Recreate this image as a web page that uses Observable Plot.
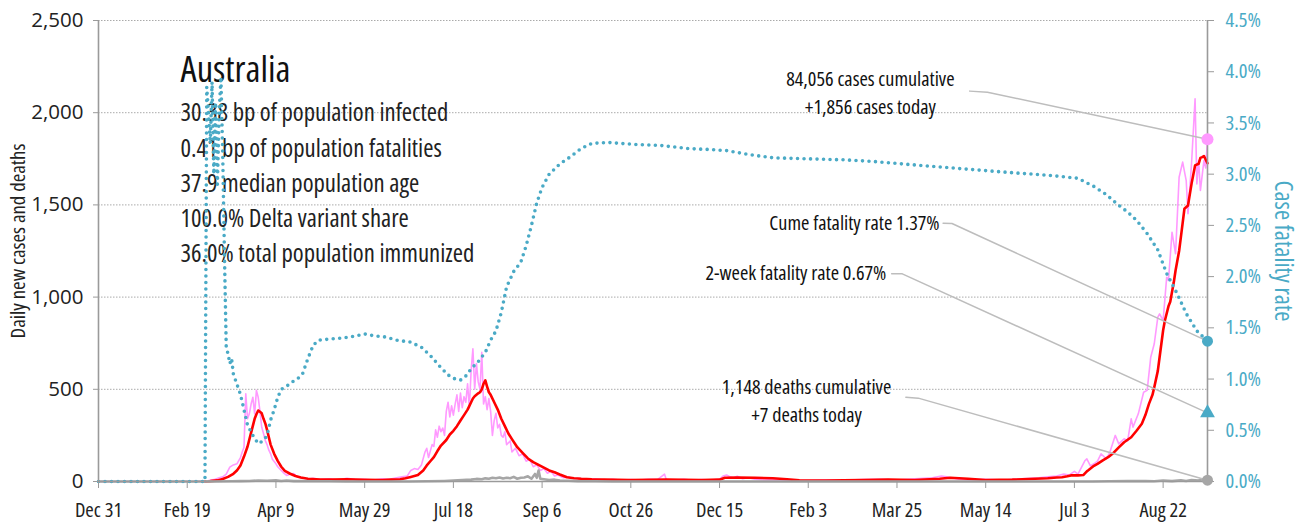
<!DOCTYPE html>
<html><head><meta charset="utf-8">
<script src="https://cdn.jsdelivr.net/npm/d3@7"></script>
<script src="https://cdn.jsdelivr.net/npm/@observablehq/plot@0.6"></script>
<style>
body{margin:0;background:#fff;}
#chart{width:1304px;height:523px;}
</style></head><body><div id="chart"></div>
<script>
// ---- data (day offsets from Dec 31, 2019) ----
const startDate = [2019, 11, 31];
const lastDay = 625;
const tickDays = [0, 50, 100, 150, 200, 250, 300, 350, 400, 450, 500, 550, 600];
const tickLabels = ["Dec 31","Feb 19","Apr 9","May 29","Jul 18","Sep 6","Oct 26","Dec 15","Feb 3","Mar 25","May 14","Jul 3","Aug 22"];
const leftTicks = [0, 500, 1000, 1500, 2000, 2500];
const cfrTicks = [0, 0.5, 1, 1.5, 2, 2.5, 3, 3.5, 4, 4.5];

const dailyCases = [[0,0],[20,0],[40,0],[55,1],[60,3],[62,5],[65,10],[68,20],[70,25],[72,40],[74,78],[76,90],[78,96],[80,130],[81,160],[82,186],[83,476],[84,340],[85,367],[86,420],[87,457],[88,367],[89,494],[90,457],[91,380],[92,294],[93,260],[94,222],[95,200],[96,170],[97,150],[98,120],[100,96],[101,80],[103,60],[104,50],[106,33],[108,40],[110,43],[112,25],[115,20],[118,12],[121,18],[125,10],[130,15],[135,8],[140,18],[145,10],[150,12],[155,8],[160,15],[164,12],[168,20],[171,25],[174,30],[176,60],[178,70],[180,65],[182,90],[184,160],[185,180],[186,130],[188,200],[189,190],[190,280],[191,240],[192,300],[193,270],[194,290],[195,250],[196,380],[197,430],[198,350],[199,410],[200,360],[201,420],[202,470],[203,380],[204,480],[205,400],[206,460],[207,430],[208,530],[209,400],[210,600],[211,720],[212,500],[213,640],[214,540],[215,500],[216,700],[217,420],[218,460],[219,390],[220,450],[221,380],[222,250],[223,330],[224,370],[225,290],[226,310],[227,250],[228,240],[229,270],[230,200],[232,220],[233,160],[235,180],[237,140],[239,150],[241,110],[243,120],[245,80],[247,90],[249,60],[251,70],[253,45],[255,55],[257,30],[259,35],[262,20],[265,25],[268,15],[271,18],[275,10],[280,14],[285,8],[290,12],[295,6],[300,10],[305,8],[310,12],[315,10],[319,40],[320,10],[325,8],[330,12],[335,6],[340,10],[345,8],[350,12],[352,30],[354,35],[356,25],[358,20],[360,28],[363,15],[366,20],[370,12],[375,8],[380,10],[390,6],[400,5],[410,8],[420,6],[430,10],[440,12],[450,8],[460,15],[470,20],[475,30],[478,25],[481,18],[485,12],[490,10],[500,12],[510,8],[520,15],[530,20],[535,25],[540,30],[544,40],[547,35],[550,55],[552,40],[556,114],[557,123],[559,85],[561,96],[563,110],[565,150],[568,123],[570,160],[573,250],[575,204],[578,232],[580,220],[582,340],[583,295],[586,367],[589,484],[591,494],[593,674],[595,747],[597,891],[598,909],[600,873],[602,1108],[603,1090],[605,1352],[607,1235],[609,1650],[611,1732],[613,1632],[614,1452],[616,1723],[618,2075],[619,1614],[620,1741],[621,1578],[623,1741],[624,1700],[625,1856]];

const avgCases = [[60,0],[63,2],[67,6],[70,14],[73,25],[76,42],[78,60],[80,87],[82,135],[84,190],[86,265],[88,340],[89,365],[90,385],[91,378],[92,370],[93,340],[94,315],[95,280],[96,240],[97,200],[99,150],[101,112],[103,80],[105,58],[108,42],[111,30],[114,22],[118,15],[125,11],[132,10],[140,12],[150,9],[160,8],[165,10],[170,12],[173,18],[176,25],[180,35],[183,60],[185,87],[187,110],[189,132],[191,165],[193,195],[196,225],[198,255],[200,275],[202,300],[204,331],[206,360],[208,390],[210,430],[211,450],[212,462],[213,470],[214,478],[215,484],[216,500],[217,530],[218,548],[219,515],[220,484],[221,470],[223,430],[225,390],[227,340],[229,300],[231,260],[233,230],[236,186],[239,155],[242,125],[245,105],[248,90],[251,75],[254,60],[257,50],[260,38],[264,23],[268,18],[272,15],[278,12],[285,10],[300,8],[320,10],[340,8],[350,10],[353,20],[360,22],[370,20],[380,18],[388,12],[395,6],[410,5],[430,8],[445,10],[460,8],[474,15],[480,20],[490,15],[500,8],[515,10],[528,15],[535,18],[540,22],[543,23],[546,28],[548,33],[552,33],[555,35],[557,55],[558,62],[561,85],[563,96],[566,115],[569,132],[572,155],[575,185],[578,213],[582,240],[585,275],[588,313],[590,360],[592,421],[594,470],[595,511],[597,600],[598,674],[600,820],[601,873],[603,950],[604,975],[606,1080],[607,1144],[609,1250],[610,1325],[612,1479],[614,1497],[616,1614],[618,1714],[620,1723],[621,1755],[622,1759],[623,1765],[624,1745],[625,1726]];

const dailyDeaths = [[0,0],[60,0],[61,1],[65,0],[75,1],[80,2],[85,3],[90,5],[95,4],[100,6],[103,3],[106,5],[110,2],[115,3],[120,1],[130,1],[140,0],[150,0],[175,0],[185,1],[195,3],[200,5],[205,8],[210,10],[213,14],[216,12],[218,17],[220,15],[222,20],[224,18],[226,22],[228,16],[230,20],[232,18],[234,25],[236,15],[238,20],[240,22],[242,28],[244,15],[246,41],[247,20],[248,59],[249,15],[251,12],[254,8],[257,10],[260,5],[265,4],[270,2],[280,1],[290,0],[540,0],[560,0],[570,1],[580,2],[590,3],[595,1],[600,5],[605,2],[610,6],[613,3],[616,8],[620,5],[622,12],[625,7]];

const cumeCfr = [[0,0],[30,0],[60,0],[61,3.85],[62,3.6],[63,3.3],[64,3.9],[65,3.0],[66,3.7],[67,2.9],[68,3.6],[69,3.95],[70,3.2],[71,2.2],[72,1.3],[73,1.25],[74,1.15],[75,1.2],[76,1.05],[77,1.0],[78,0.95],[79,0.9],[80,0.85],[82,0.7],[84,0.55],[87,0.45],[90,0.37],[93,0.4],[95,0.45],[97,0.6],[99,0.7],[101,0.82],[103,0.9],[106,0.93],[109,0.97],[112,1.0],[115,1.05],[118,1.2],[121,1.33],[124,1.38],[130,1.39],[137,1.4],[145,1.42],[150,1.44],[156,1.42],[162,1.41],[168,1.38],[176,1.36],[182,1.31],[187,1.23],[192,1.13],[197,1.04],[201,1.0],[204,0.99],[207,1.03],[210,1.1],[214,1.17],[218,1.26],[221,1.38],[224,1.47],[227,1.65],[230,1.9],[234,2.05],[238,2.14],[241,2.3],[244,2.5],[247,2.72],[250,2.87],[254,3.0],[260,3.1],[266,3.17],[272,3.25],[278,3.3],[287,3.31],[302,3.29],[317,3.28],[332,3.25],[345,3.24],[354,3.23],[367,3.19],[380,3.16],[399,3.15],[420,3.14],[436,3.125],[453,3.1],[474,3.07],[496,3.04],[518,3.01],[535,2.99],[552,2.96],[561,2.88],[568,2.8],[574,2.71],[580,2.63],[585,2.55],[591,2.42],[597,2.26],[602,2.03],[608,1.83],[613,1.64],[619,1.47],[625,1.37]];

const twoWeekCfr = [[625, 0.67]];

const statsTitle = "Australia";
const statsLines = ["30.38 bp of population infected","0.41 bp of population fatalities","37.9 median population age","100.0% Delta variant share","36.0% total population immunized"];
const casesNote = ["84,056 cases cumulative", "+1,856 cases today"];
const cumeNote = "Cume fatality rate 1.37%";
const twoWeekNote = "2-week fatality rate 0.67%";
const deathsNote = ["1,148 deaths cumulative", "+7 deaths today"];
const leftLabel = "Daily new cases and deaths";
const rightLabel = "Case fatality rate";

// ---- font selection: pick the narrowest installed face, then size text to the reference widths ----
const CANDIDATES = [
  {family: '"Liberation Sans Narrow", sans-serif', stretch: "normal"},
  {family: '"Open Sans", sans-serif', stretch: "75%"},
  {family: '"Noto Sans", sans-serif', stretch: "75%"},
  {family: '"DejaVu Sans Condensed", sans-serif', stretch: "normal"},
  {family: '"DejaVu Sans", sans-serif', stretch: "condensed"},
  {family: 'Roboto, sans-serif', stretch: "normal"},
  {family: '"Liberation Sans", sans-serif', stretch: "normal"}
];
const probe = d3.select("body").append("svg").attr("width", 10).attr("height", 10).style("position", "absolute").style("left", "-9999px");
function measureText(c, s, size = 100, stretch = c.stretch) {
  const t = probe.append("text").attr("font-family", c.family).attr("font-size", size).style("font-stretch", stretch).text(s);
  const w = t.node().getComputedTextLength();
  const h = t.node().getBBox().height;
  t.remove();
  return {w, h};
}
const measure = (c, s) => measureText(c, s).w;
const sampleStr = "Cume fatality rate 1.37%";
let chosen = CANDIDATES[0], best = Infinity;
for (const c of CANDIDATES) { const w = measure(c, sampleStr); if (w < best - 0.5) { best = w; chosen = c; } }
const boxRatio = measureText(chosen, "Ag").h / 100; // line-box height per px of font size
const fit = (s, target) => 100 * target / measure(chosen, s);
const variableWidth = /%$/.test(chosen.stretch);
// when a size is capped (to keep line boxes apart), pick the installed width whose text is closest to the reference width
function stretchFor(samples, size) {
  if (!variableWidth) return chosen.stretch;
  const options = [chosen.stretch, "87.5%", "100%"];
  let bestS = chosen.stretch, bestErr = Infinity;
  for (const st of options) {
    let err = 0;
    for (const [s, target] of samples) err += Math.abs(measureText(chosen, s, size, st).w - target) / target;
    if (err < bestErr - 1e-6) { bestErr = err; bestS = st; }
  }
  return bestS;
}
const tickSize = Math.min((fit("2,500", 48) + fit("Dec 31", 53) + fit("4.5%", 38.6)) / 3, 20.5);
const xTickStretch = stretchFor([["Dec 31", 53], ["Feb 19", 56], ["Aug 22", 58]], tickSize);
const yTickStretch = stretchFor([["2,500", 48], ["1,000", 48]], tickSize);
const rTickStretch = stretchFor([["4.5%", 38.6]], tickSize);
const titleSize = fit(statsTitle, 110);
const bodySize = Math.min(fit(statsLines[0], 268), 34 / boxRatio);
const bodyStretch = stretchFor([[statsLines[0], 268], [statsLines[4], 290]], bodySize);
const noteGap = 28;
const noteSize = Math.min((fit(casesNote[0], 190) + fit(cumeNote, 186)) / 2, (noteGap - 0.5) / boxRatio);
const noteStretch = stretchFor([[casesNote[0], 190], [cumeNote, 186], [deathsNote[0], 188]], noteSize);
const leftLabelSize = fit(leftLabel, 195);
const rightLabelSize = fit(rightLabel, 141);
probe.remove();

// ---- helpers ----
const t0 = new Date(Date.UTC(...startDate));
const dt = d => d3.utcDay.offset(t0, d);
const k = 2500 / 4.5; // secondary axis factor (percent -> left scale)
const labelByTime = new Map(tickDays.map((d, i) => [+dt(d), tickLabels[i]]));

const BLUE = "#4aaac6", PINK = "#ff99ff", RED = "#ff0000", GREY = "#a6a6a6", AXIS = "#9a9a9a", LEAD = "#bdbdbd";

const px = d => dt(d[0]);
const lastCase = dailyCases[dailyCases.length - 1];
const lastCfr = cumeCfr[cumeCfr.length - 1];
const lastDeath = dailyDeaths[dailyDeaths.length - 1];

const chart = Plot.plot({
  width: 1304, height: 523,
  marginLeft: 98, marginRight: 97, marginTop: 20, marginBottom: 42,
  style: `font-family: ${chosen.family}; font-stretch: ${chosen.stretch}; font-size: ${tickSize}px; color: #222; background: #fff;`,
  x: {type: "utc", domain: [dt(0), dt(lastDay)]},
  y: {domain: [0, 2500]},
  marks: [
    Plot.gridY(leftTicks.filter(v => v > 0), {stroke: "#aaa", strokeOpacity: 1, strokeDasharray: "1.5,1.5", strokeWidth: 1}),
    Plot.text([statsTitle], {text: d => d, frameAnchor: "top-left", dx: 82, dy: 50, fontSize: titleSize, fill: "#111", textAnchor: "start", lineAnchor: "middle"}),
    Plot.text([statsLines.join("\n")], {text: d => d, frameAnchor: "top-left", dx: 82, dy: 160, fontSize: bodySize, lineHeight: 35.2 / bodySize, fill: "#222", textAnchor: "start", lineAnchor: "middle", ariaDescription: "stats"}),
    Plot.line(dailyCases, {x: px, y: d => d[1], stroke: PINK, strokeWidth: 1.6}),
    Plot.line(avgCases, {x: px, y: d => d[1], stroke: RED, strokeWidth: 2.6}),
    Plot.line(dailyDeaths, {x: px, y: d => d[1], stroke: GREY, strokeWidth: 2.6}),
    Plot.line(cumeCfr, {x: px, y: d => d[1] * k, stroke: BLUE, strokeWidth: 3.6, strokeDasharray: "0 6.5", strokeLinecap: "round", strokeLinejoin: "round"}),
    // axis lines
    Plot.ruleY([0], {stroke: AXIS, strokeWidth: 1.6}),
    Plot.ruleX([dt(0), dt(lastDay)], {stroke: AXIS, strokeWidth: 1.6}),
    Plot.axisX({ticks: tickDays.map(dt), tickFormat: d => labelByTime.get(+d), tickSize: 7, tickPadding: 14, stroke: AXIS, fill: "#222", label: null, fontSize: tickSize, ariaDescription: "xticks"}),
    Plot.axisY({ticks: leftTicks, tickFormat: d3.format(","), tickSize: 5, tickPadding: 10, stroke: AXIS, fill: "#222", label: null, fontSize: tickSize, ariaDescription: "yticks"}),
    Plot.axisY({anchor: "right", ticks: cfrTicks.map(p => p * k), tickFormat: v => (v / k).toFixed(1) + "%", tickSize: 6, tickPadding: 12, stroke: AXIS, fill: BLUE, label: null, fontSize: tickSize, ariaDescription: "rticks"}),
    Plot.text([leftLabel], {text: d => d, frameAnchor: "left", textAnchor: "middle", rotate: -90, dx: -80, dy: -10, fontSize: leftLabelSize, fill: "#222"}),
    Plot.text([rightLabel], {text: d => d, frameAnchor: "right", textAnchor: "middle", rotate: 90, dx: 75, fontSize: rightLabelSize, fill: BLUE}),
    // annotations (one text per line) and leader lines
    Plot.text([casesNote[0]], {text: d => d, x: dt(435), y: 2180, fontSize: noteSize, textAnchor: "middle", fill: "#111", ariaDescription: "note"}),
    Plot.text([casesNote[1]], {text: d => d, x: dt(435), y: 2028, fontSize: noteSize, textAnchor: "middle", fill: "#111", ariaDescription: "note"}),
    Plot.text([cumeNote], {text: d => d, x: dt(474), y: 1401, fontSize: noteSize, textAnchor: "end", fill: "#111", ariaDescription: "note"}),
    Plot.text([twoWeekNote], {text: d => d, x: dt(444), y: 1128, fontSize: noteSize, textAnchor: "end", fill: "#111", ariaDescription: "note"}),
    Plot.text([deathsNote[0]], {text: d => d, x: dt(399.6), y: 509, fontSize: noteSize, textAnchor: "middle", fill: "#111", ariaDescription: "note"}),
    Plot.text([deathsNote[1]], {text: d => d, x: dt(399.6), y: 357, fontSize: noteSize, textAnchor: "middle", fill: "#111", ariaDescription: "note"}),
    Plot.line([[491.5, 2117], [501.5, 2111], [lastCase[0], lastCase[1]]], {x: px, y: d => d[1], stroke: LEAD, strokeWidth: 1.5}),
    Plot.line([[476.2, 1401], [481.9, 1399], [lastCfr[0], lastCfr[1] * k]], {x: px, y: d => d[1], stroke: LEAD, strokeWidth: 1.5}),
    Plot.line([[447.3, 1126], [453.7, 1126], [twoWeekCfr[0][0], twoWeekCfr[0][1] * k]], {x: px, y: d => d[1], stroke: LEAD, strokeWidth: 1.5}),
    Plot.line([[455.4, 457], [462.1, 452], [lastDeath[0], lastDeath[1]]], {x: px, y: d => d[1], stroke: LEAD, strokeWidth: 1.5}),
    // end markers
    Plot.dot([lastCase], {x: px, y: d => d[1], r: 6, fill: PINK}),
    Plot.dot([lastCfr], {x: px, y: d => d[1] * k, r: 5.5, fill: BLUE}),
    Plot.dot(twoWeekCfr, {x: px, y: d => d[1] * k, r: 5.5, symbol: "triangle", fill: BLUE}),
    Plot.dot([lastDeath], {x: px, y: d => d[1], r: 5.5, fill: GREY})
  ]
});
const sel = d3.select(chart);
sel.selectAll('[aria-description="note"]').style("font-stretch", noteStretch);
sel.selectAll('[aria-description="stats"]').style("font-stretch", bodyStretch);
sel.selectAll('[aria-description="xticks"]').style("font-stretch", xTickStretch);
sel.selectAll('[aria-description="yticks"]').style("font-stretch", yTickStretch);
sel.selectAll('[aria-description="rticks"]').style("font-stretch", rTickStretch);
document.getElementById("chart").appendChild(chart);
</script>
</body></html>
